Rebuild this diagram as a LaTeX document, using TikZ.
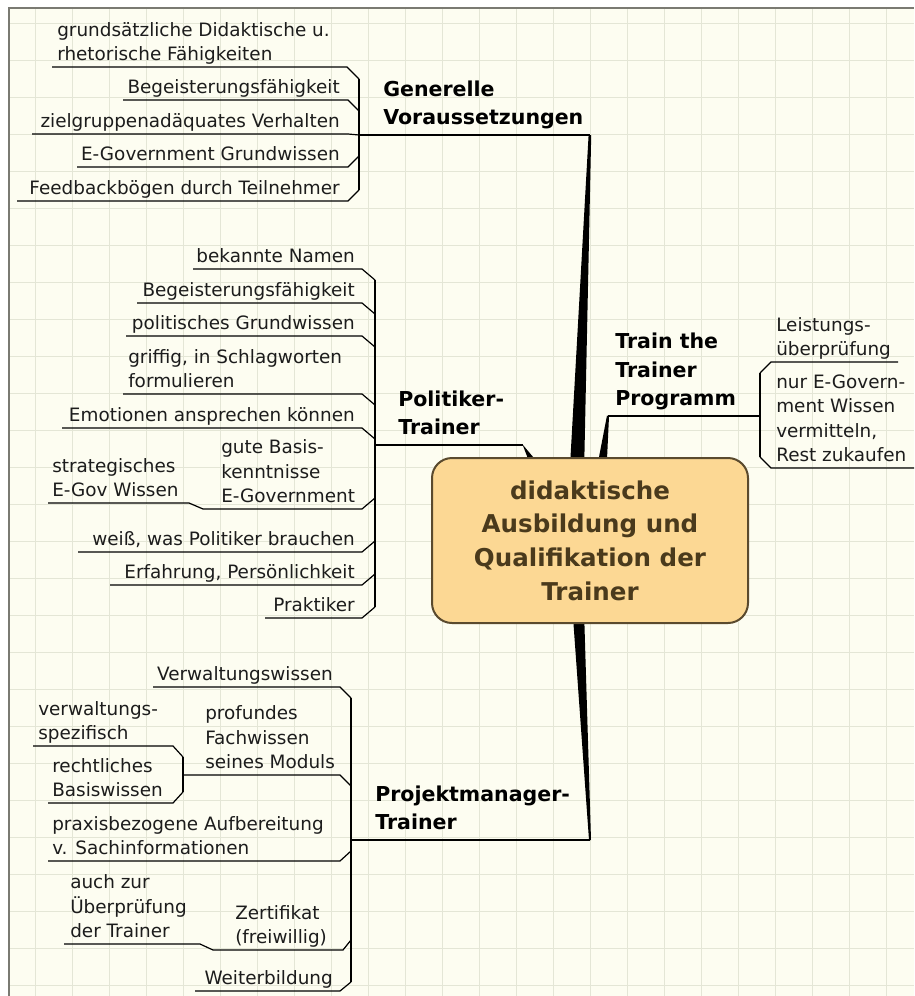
\documentclass[tikz,border=0pt]{standalone}
\usepackage{fontspec}
\setmainfont{DejaVu Sans}
\definecolor{paper}{HTML}{FDFDF1}
\definecolor{gridc}{HTML}{E4E6D6}
\definecolor{framec}{HTML}{7A7A72}
\definecolor{itemc}{HTML}{1C1C1C}
\definecolor{hubfill}{HTML}{FCD894}
\definecolor{hubdraw}{HTML}{5A4A2E}
\definecolor{hubtext}{HTML}{4A3A1C}
% depth struts: fixed gap between the last baseline and the underline
\newcommand\ldep{\rule[-4.5pt]{0pt}{4.5pt}}
\newcommand\hdep{\rule[-7.5pt]{0pt}{7.5pt}}
% twig: underline from far end to near end, then a bevel to the spine joint
\newcommand\twig[6]{%
  \coordinate (#1-f) at (#2,#4);
  \coordinate (#1-n) at (#3,#4);
  \coordinate (#1-j) at (#5,#6);
  \draw[ul] (#1-f) -- (#1-n) -- (#1-j);}
\begin{document}
\begin{tikzpicture}[x=0.75pt,y=-0.75pt,
  gridline/.style={draw=gridc, line width=0.7pt},
  ul/.style={draw=black, line width=0.9pt, line join=miter},
  item/.style={font=\fontsize{13.8}{18.4}\selectfont, text=itemc, inner sep=0pt},
  head/.style={font=\bfseries\fontsize{15.4}{21.4}\selectfont, text=black, inner sep=0pt, align=left},
  taper/.style={fill=black},
  hub/.style={draw=hubdraw, line width=1.5pt, fill=hubfill, rounded corners=15pt,
    minimum width=237pt, minimum height=123.75pt, align=center, text=hubtext,
    font=\bfseries\fontsize{18.4}{25.3}\selectfont}]
\useasboundingbox (0,0) rectangle (914,996);
\fill[white] (0,0) rectangle (914,996);
\fill[paper] (9,8) rectangle (914,996);
% squared paper
\foreach \gx in {35,72,...,890} \draw[gridline] (\gx,8) -- (\gx,996);
\foreach \gy in {23,60,...,990} \draw[gridline] (9,\gy) -- (914,\gy);
\draw[framec, line width=1.2pt] (9,996) -- (9,8) -- (914,8);

% ---------- main branches (tapered) ----------
\coordinate (genE) at (590,135);
\coordinate (polE) at (523,445);
\coordinate (trnE) at (608,416);
\coordinate (proE) at (590,840);
\fill[taper] (588.6,135) -- (591.2,135) -- (584,475) -- (569.5,475) -- cycle;
\fill[taper] (572.5,610) -- (584,610) -- (591,840) -- (589,840) -- cycle;
\fill[taper] (607,415.5) -- (609,416.5) -- (606.5,470) -- (596.5,470) -- cycle;
\fill[taper] (522.5,444.4) -- (523.5,445.6) -- (539,464) -- (530,464) -- cycle;

% ---------- Generelle Voraussetzungen ----------
\twig{g1}{52}{347}{67}{359}{79}
\twig{g2}{123}{348}{100}{359}{111}
\twig{g3}{32}{348}{134}{359}{135}
\twig{g4}{77}{348}{167}{359}{156}
\twig{g5}{17}{348}{201}{359}{190}
\draw[ul] (g1-j) -- (g5-j);
\draw[ul] (g3-j) -- (genE);
\node[head, anchor=south west] (gen) at (383,135) {Generelle\\Voraussetzungen\hdep};
\node[item, anchor=south west, align=left] (g1t) at (57,67) {grundsätzliche Didaktische u.\\rhetorische Fähigkeiten\ldep};
\node[item, anchor=south east] (g2t) at (340,100) {Begeisterungsfähigkeit\ldep};
\node[item, anchor=south east] (g3t) at (340,134) {zielgruppenadäquates Verhalten\ldep};
\node[item, anchor=south east] (g4t) at (340,167) {E-Government Grundwissen\ldep};
\node[item, anchor=south east] (g5t) at (340,201) {Feedbackbögen durch Teilnehmer\ldep};

% ---------- Politiker-Trainer ----------
\twig{p1}{193}{362}{269}{375}{280}
\twig{p2}{137}{362}{303}{375}{314}
\twig{p3}{126}{362}{336}{375}{347}
\twig{p4}{123}{362}{394}{375}{405}
\twig{p5}{62}{362}{428}{375}{439}
\twig{p6}{203}{362}{509}{375}{498}
\twig{p6s}{48}{189}{503}{203}{509}
\twig{p7}{78}{362}{552}{375}{541}
\twig{p8}{110}{362}{585}{375}{574}
\twig{p9}{265}{362}{618}{375}{607}
\coordinate (polB) at (375,445);
\draw[ul] (p1-j) -- (p9-j);
\draw[ul] (polB) -- (polE);
\node[head, anchor=south west] (pol) at (398,445) {Politiker-\\Trainer\hdep};
\node[item, anchor=south east] (p1t) at (355,269) {bekannte Namen\ldep};
\node[item, anchor=south east] (p2t) at (355,303) {Begeisterungsfähigkeit\ldep};
\node[item, anchor=south east] (p3t) at (355,336) {politisches Grundwissen\ldep};
\node[item, anchor=south west, align=left] (p4t) at (128,394) {griffig, in Schlagworten\\formulieren\ldep};
\node[item, anchor=south east] (p5t) at (355,428) {Emotionen ansprechen können\ldep};
\node[item, anchor=south west, align=left] (p6t) at (221,509) {gute Basis-\\kenntnisse\\E-Government\ldep};
\node[item, anchor=south west, align=left] (p6st) at (52,503) {strategisches\\E-Gov Wissen\ldep};
\node[item, anchor=south east] (p7t) at (355,552) {weiß, was Politiker brauchen\ldep};
\node[item, anchor=south east] (p8t) at (355,585) {Erfahrung, Persönlichkeit\ldep};
\node[item, anchor=south east] (p9t) at (355,618) {Praktiker\ldep};

% ---------- Train the Trainer Programm ----------
\twig{t1}{898}{771}{362}{760}{373}
\twig{t2}{914}{771}{468}{760}{457}
\coordinate (trnB) at (760,416);
\draw[ul] (t1-j) -- (t2-j);
\draw[ul] (trnE) -- (trnB);
\node[head, anchor=south west] (trn) at (615,416) {Train the\\Trainer\\Programm\hdep};
\node[item, anchor=south west, align=left] (t1t) at (776,362) {Leistungs-\\überprüfung\ldep};
\node[item, anchor=south west, align=left] (t2t) at (776,468) {nur E-Govern-\\ment Wissen\\vermitteln,\\Rest zukaufen\ldep};

% ---------- Projektmanager-Trainer ----------
\twig{r1}{153}{340}{687}{351}{698}
\twig{r2}{183}{340}{775}{351}{786}
\twig{r2a}{33}{173}{746}{183}{757}
\twig{r2b}{48}{173}{803}{183}{792}
\draw[ul] (r2a-j) -- (r2b-j);
\twig{r3}{48}{340}{861}{351}{851}
\twig{r4}{213}{343}{950}{351}{940}
\twig{r4a}{64}{200}{944}{213}{950}
\twig{r5}{195}{340}{991}{351}{982}
\coordinate (proB) at (351,840);
\coordinate (proK) at (370,840);
\draw[ul] (r1-j) -- (r5-j);
\draw[ul] (proB) -- (proE);
\draw[line width=2.2pt] (proB) -- (proK);
\node[head, anchor=south west] (pro) at (375,840) {Projektmanager-\\Trainer\hdep};
\node[item, anchor=south east] (r1t) at (333,687) {Verwaltungswissen\ldep};
\node[item, anchor=south west, align=left] (r2t) at (205,775) {profundes\\Fachwissen\\seines Moduls\ldep};
\node[item, anchor=south west, align=left] (r2at) at (38,746) {verwaltungs-\\spezifisch\ldep};
\node[item, anchor=south west, align=left] (r2bt) at (52,803) {rechtliches\\Basiswissen\ldep};
\node[item, anchor=south west, align=left] (r3t) at (52,861) {praxisbezogene Aufbereitung\\v. Sachinformationen\ldep};
\node[item, anchor=south west, align=left] (r4t) at (235,950) {Zertifikat\\(freiwillig)\ldep};
\node[item, anchor=south west, align=left] (r4at) at (70,944) {auch zur\\Überprüfung\\der Trainer\ldep};
\node[item, anchor=south east] (r5t) at (333,991) {Weiterbildung\ldep};

% ---------- central topic ----------
\node[hub] (topic) at (590,540.5) {didaktische\\Ausbildung und\\Qualifikation der\\Trainer};
\end{tikzpicture}
\end{document}
